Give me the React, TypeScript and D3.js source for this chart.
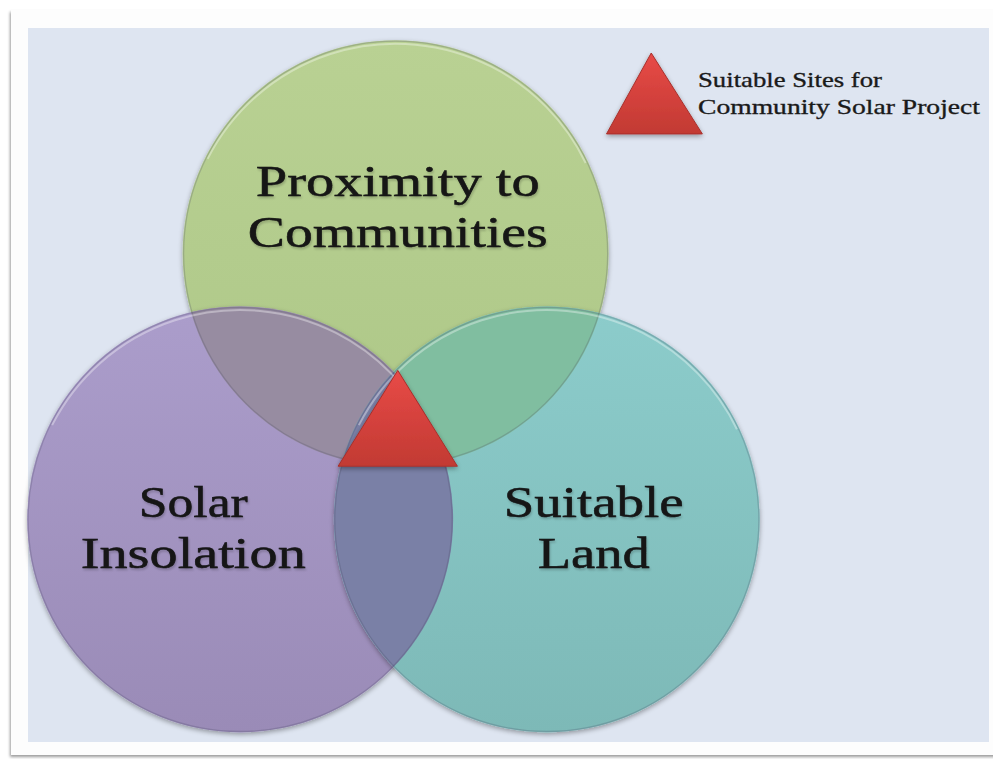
import React from "react";
import * as d3 from "d3";

// Venn sets (abstract layout units, radius = 1)
const setNames = ["Proximity to Communities", "Solar Insolation", "Suitable Land"];
const setLines = [["Proximity to", "Communities"], ["Solar", "Insolation"], ["Suitable", "Land"]];
const setX = [0.01, -0.72, 0.72];
const setY = [-0.83, 0.42, 0.42];
const setR = [1, 1, 1];
const setTopColor = ["#b9d193", "#ab9dcb", "#8ccccb"];
const setBottomColor = ["#adc787", "#9a8bb7", "#7db9b7"];
const labelDX = [0.01, -0.22, 0.22];
const labelDY = [-0.26, 0, 0];
const labelWidths = [[284, 300], [109, 225], [180, 112]];
// pairwise intersections [a, b, colour]
const pairA = [0, 0, 1];
const pairB = [1, 2, 2];
const pairColor = ["#978ca1", "#80bea0", "#7a80a6"];
const legendLines = ["Suitable Sites for", "Community Solar Project"];
const legendWidths = [184, 282];

const W = 993;
const H = 759;

export default function App() {
  const xs = d3.scaleLinear().domain([-1, 1]).range([393.5 - 213, 393.5 + 213]);
  const ys = d3.scaleLinear().domain([-1, 1]).range([430 - 213, 430 + 213]);
  const rs = d3.scaleLinear().domain([0, 1]).range([0, 213]);

  // central triangle (in same units)
  const triU = [[0.02, -0.28], [-0.26, 0.17], [0.30, 0.17]];
  const tri = d3.line()(triU.map(([u, v]) => [xs(u), ys(v)]) as [number, number][]) + "Z";
  const legTriU = [[1.21, -1.77], [1.0, -1.39], [1.45, -1.39]];
  const legTri = d3.line()(legTriU.map(([u, v]) => [xs(u), ys(v)]) as [number, number][]) + "Z";

  const fontFam = "'Liberation Serif', 'Times New Roman', serif";

  return (
    <svg width={W} height={H} style={{ position: "absolute", left: 0, top: 0 }}>
      <defs>
        {setNames.map((_, i) => (
          <linearGradient key={i} id={`g${i}`} x1="0" y1="0" x2="0" y2="1">
            <stop offset="0" stopColor={setTopColor[i]} />
            <stop offset="1" stopColor={setBottomColor[i]} />
          </linearGradient>
        ))}
        {setNames.map((_, i) => (
          <clipPath key={i} id={`c${i}`}>
            <circle cx={xs(setX[i])} cy={ys(setY[i])} r={rs(setR[i])} />
          </clipPath>
        ))}
        <linearGradient id="tri" x1="0" y1="0" x2="0" y2="1">
          <stop offset="0" stopColor="#e84a47" />
          <stop offset="1" stopColor="#c23a33" />
        </linearGradient>
        <filter id="sh" x="-20%" y="-20%" width="140%" height="140%">
          <feGaussianBlur in="SourceAlpha" stdDeviation="2.5" />
          <feOffset dx="0" dy="2" />
          <feComponentTransfer><feFuncA type="linear" slope="0.35" /></feComponentTransfer>
          <feMerge><feMergeNode /><feMergeNode in="SourceGraphic" /></feMerge>
        </filter>
        <filter id="tsh" x="-10%" y="-10%" width="120%" height="130%">
          <feGaussianBlur in="SourceAlpha" stdDeviation="1.2" />
          <feOffset dx="1" dy="1.5" />
          <feComponentTransfer><feFuncA type="linear" slope="0.2" /></feComponentTransfer>
          <feMerge><feMergeNode /><feMergeNode in="SourceGraphic" /></feMerge>
        </filter>
        <filter id="card" x="-5%" y="-5%" width="110%" height="110%">
          <feGaussianBlur in="SourceAlpha" stdDeviation="1.5" />
          <feOffset dx="-1" dy="2" />
          <feComponentTransfer><feFuncA type="linear" slope="0.4" /></feComponentTransfer>
          <feMerge><feMergeNode /><feMergeNode in="SourceGraphic" /></feMerge>
        </filter>
      </defs>
      <rect x={0} y={0} width={W} height={H} fill="#ffffff" />
      <rect x={11} y={10} width={995} height={745} fill="#fdfdfd" filter="url(#card)" />
      <rect x={28} y={28} width={961} height={714} fill="#dee5f1" />

      {/* circles */}
      {setNames.map((_, i) => (
        <circle key={i} cx={xs(setX[i])} cy={ys(setY[i])} r={rs(setR[i])} fill={`url(#g${i})`} filter="url(#sh)" />
      ))}
      {/* pairwise overlaps */}
      {pairA.map((a, k) => (
        <g key={k} clipPath={`url(#c${a})`}>
          <circle cx={xs(setX[pairB[k]])} cy={ys(setY[pairB[k]])} r={rs(setR[pairB[k]])} fill={pairColor[k]} />
        </g>
      ))}
      {/* rims */}
      {setNames.map((_, i) => (
        <circle key={i} cx={xs(setX[i])} cy={ys(setY[i])} r={rs(setR[i]) - 1} fill="none"
          stroke="rgba(70,70,100,0.25)" strokeWidth={1.2} />
      ))}
      {setNames.map((_, i) => (
        <circle key={i} cx={xs(setX[i])} cy={ys(setY[i]) + 1.5} r={rs(setR[i]) - 2} fill="none"
          stroke="rgba(255,255,255,0.35)" strokeWidth={2}
          strokeDasharray={`${Math.PI * rs(setR[i]) * 0.7} ${Math.PI * rs(setR[i]) * 2}`}
          transform={`rotate(${-90 - 63} ${xs(setX[i])} ${ys(setY[i]) + 1.5})`} />
      ))}

      {/* labels */}
      {setLines.map((lines, i) =>
        lines.map((t, j) => (
          <text key={`${i}-${j}`} x={xs(setX[i] + labelDX[i])} y={ys(setY[i] + labelDY[i]) - 2 + j * 51}
            textAnchor="middle" fontFamily={fontFam} fontSize={45} fill="#141414"
            textLength={labelWidths[i][j]} lengthAdjust="spacingAndGlyphs" filter="url(#tsh)"
            stroke="#141414" strokeWidth={0.5}>
            {t}
          </text>
        ))
      )}

      {/* central triangle */}
      <path d={tri} fill="url(#tri)" stroke="#a8302b" strokeWidth={1} filter="url(#sh)" />
      <path d={legTri} fill="url(#tri)" stroke="#a8302b" strokeWidth={1} filter="url(#sh)" />
      {legendLines.map((t, j) => (
        <text key={j} x={698} y={87 + j * 27} fontFamily={fontFam} fontSize={22} fill="#1a1a1a"
          textLength={legendWidths[j]} lengthAdjust="spacingAndGlyphs" stroke="#1a1a1a" strokeWidth={0.35}>
          {t}
        </text>
      ))}
    </svg>
  );
}
